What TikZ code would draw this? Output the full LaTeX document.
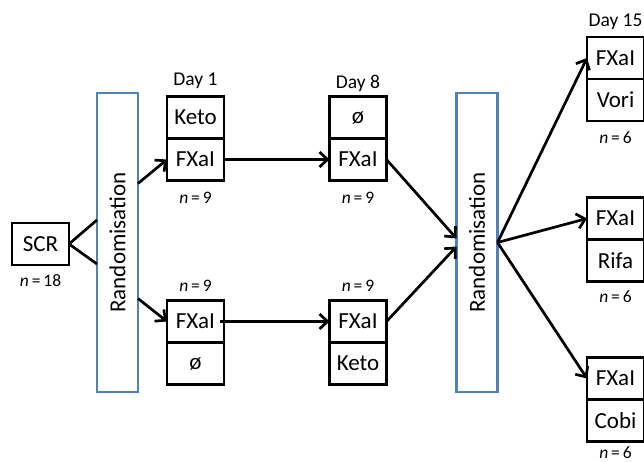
\documentclass[tikz,border=0pt]{standalone}
\usepackage{fontspec}
\usepackage{graphicx}
\setmainfont{Carlito}
\usetikzlibrary{
  arrows.meta,
  positioning
}
\definecolor{rndblue}{HTML}{4F81BD}

\begin{document}
\begin{tikzpicture}[
      x=1pt, y=-1pt,
      box/.style={
        rectangle, draw=black, line width=2.7pt,
        minimum width=57pt, minimum height=42pt,
        inner sep=0pt, outer sep=0pt,
        font=\fontsize{23}{27}\selectfont
      },
      bar/.style={
        rectangle, draw=rndblue, line width=2.2pt,
        minimum width=41pt, minimum height=299pt,
        inner sep=0pt, outer sep=0pt,
        font=\fontsize{23}{27}\selectfont
      },
      day/.style={inner sep=0pt, font=\fontsize{19.5}{23}\selectfont},
      num/.style={inner sep=0pt, font=\fontsize{17.5}{21}\selectfont},
      arrow/.style={-{Straight Barb[length=8pt, width=15pt]}, line width=2.7pt},
      line/.style={line width=2.7pt}
    ]
      \useasboundingbox (0,0) rectangle (644,462);

      % Screening
      \node[box] (scr) at (40.5,244) {SCR};
      \node[num, below=9pt of scr] (nscr) {\textit{n}\,=\,18};

      % Randomisation bars
      \node[bar] (rnd1) at (117.5,242.5) {\rotatebox{90}{Randomisation}};
      \node[bar] (rnd2) at (477,242.5) {\rotatebox{90}{Randomisation}};

      % Day 1
      \node[box] (ketoA) at (195.5,117.5) {Keto};
      \node[box, below=0pt of ketoA] (fxA) {FXaI};
      \node[day, above=8pt of ketoA] (day1) {Day 1};
      \node[num, below=11pt of fxA] (nA) {\textit{n}\,=\,9};

      \node[box] (fxB) at (195.5,321.5) {FXaI};
      \node[box, below=0pt of fxB] (nilB) {ø};
      \node[num, above=9pt of fxB] (nB) {\textit{n}\,=\,9};

      % Day 8
      \node[box] (nilC) at (358,117.5) {ø};
      \node[box, below=0pt of nilC] (fxC) {FXaI};
      \node[day, above=5pt of nilC] (day8) {Day 8};
      \node[num, below=11pt of fxC] (nC) {\textit{n}\,=\,9};

      \node[box] (fxD) at (358,321.5) {FXaI};
      \node[box, below=0pt of fxD] (ketoD) {Keto};
      \node[num, above=9pt of fxD] (nD) {\textit{n}\,=\,9};

      % Day 15
      \node[box] (fxE) at (615.5,58) {FXaI};
      \node[box, below=0pt of fxE] (vori) {Vori};
      \node[day, above=7pt of fxE] (day15) {Day 15};
      \node[num, below=10pt of vori] (nE) {\textit{n}\,=\,6};

      \node[box] (fxF) at (615.5,218.5) {FXaI};
      \node[box, below=0pt of fxF] (rifa) {Rifa};
      \node[num, below=9pt of rifa] (nF) {\textit{n}\,=\,6};

      \node[box] (fxG) at (615.5,378.5) {FXaI};
      \node[box, below=0pt of fxG] (cobi) {Cobi};
      \node[num, below=5pt of cobi] (nG) {\textit{n}\,=\,6};

      % Connectors
      \draw[line] (scr.east) -- ([yshift=22.5pt]rnd1.west);
      \draw[line] (scr.east) -- ([yshift=-21.5pt]rnd1.west);

      \draw[arrow] ([yshift=59pt]rnd1.east) -- (fxA.west);
      \draw[arrow] ([yshift=-56pt]rnd1.east) -- (fxB.west);

      \draw[arrow] (fxA.east) -- (fxC.west);
      \draw[arrow] ([xshift=-4pt]fxB.east) -- (fxD.west);

      \draw[arrow] (fxC.east) -- ([yshift=4pt]rnd2.west);
      \draw[arrow] (fxD.east) -- ([yshift=-4pt]rnd2.west);

      \draw[arrow] (rnd2.east) -- (fxE.west);
      \draw[arrow] (rnd2.east) -- (fxF.west);
      \draw[arrow] (rnd2.east) -- (fxG.west);
    \end{tikzpicture}
\end{document}
